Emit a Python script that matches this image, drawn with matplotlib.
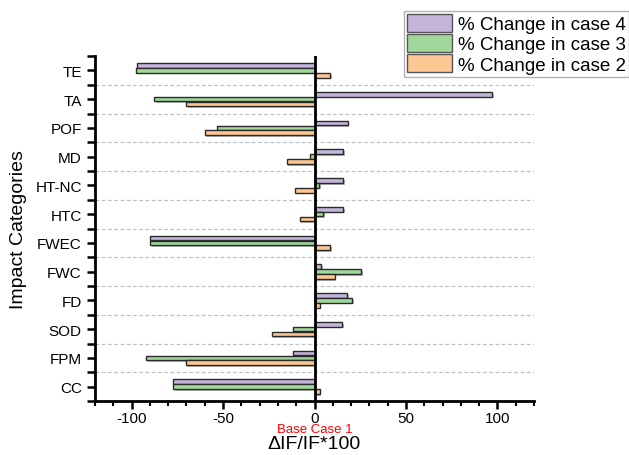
import matplotlib
matplotlib.use("Agg")
import matplotlib.pyplot as plt
import matplotlib.patheffects as pe
from matplotlib.ticker import MultipleLocator
import numpy as np

plt.rcParams['font.family'] = ['Liberation Sans', 'DejaVu Sans']
plt.rcParams['axes.unicode_minus'] = False

categories = ["CC", "FPM", "SOD", "FD", "FWC", "FWEC", "HTC", "HT-NC", "MD", "POF", "TA", "TE"]
case4 = [-77.6, -11.5, 15.3, 18.0, 3.8, -90.0, 15.8, 15.5, 15.8, 18.2, 97.3, -96.9]
case3 = [-77.1, -92.2, -12.0, 20.7, 25.6, -90.0, 4.9, 2.7, -2.7, -53.3, -87.8, -97.6]
case2 = [2.9, -70.4, -23.5, 2.9, 11.1, 8.4, -8.2, -10.5, -15.3, -60.0, -70.0, 8.7]

series = [
    ("% Change in case 4", case4, "#c4b5da", 0.17),
    ("% Change in case 3", case3, "#9fd89a", 0.0),
    ("% Change in case 2", case2, "#fdc794", -0.17),
]

fig = plt.figure(figsize=(6.29, 4.56), dpi=100)
ax = fig.add_axes([95/629, 1-402/456, (534-95)/629, (402-57)/456])

y = np.arange(len(categories))
shadow = [pe.SimplePatchShadow(offset=(1.2, -1.2), shadow_rgbFace='#888888', alpha=0.6), pe.Normal()]
handles = []
for label, vals, color, off in series:
    bars = ax.barh(y + off, vals, height=0.165, color=color, edgecolor='#2b2b2b',
                   linewidth=1.0, label=label, zorder=3)
    for b in bars:
        b.set_path_effects(shadow)
    handles.append(bars)

ax.axvline(0, color='black', linewidth=2, zorder=5)

ax.set_xlim(-120, 120)
ax.set_ylim(-0.5, 11.5)
ax.set_yticks(y)
ax.set_yticklabels(categories, fontsize=11)
ax.yaxis.set_minor_locator(MultipleLocator(1, offset=0.5))
ax.xaxis.set_major_locator(MultipleLocator(50))
ax.xaxis.set_minor_locator(MultipleLocator(10))
ax.tick_params(axis='x', labelsize=11, pad=1.5)
ax.tick_params(which='major', direction='out', length=6, width=1.8)
ax.tick_params(which='minor', direction='out', length=3.5, width=1.5)
ax.tick_params(axis='y', which='minor', length=6, width=1.8)

ax.hlines(y[:-1] + 0.5, -120, 120, colors='#c0c0c0', linestyles=(0, (3, 2)),
          linewidth=0.9, zorder=0)

for s in ['top', 'right']:
    ax.spines[s].set_visible(False)
for s in ['left', 'bottom']:
    ax.spines[s].set_linewidth(2)

ax.set_xlabel("ΔIF/IF*100", fontsize=14, labelpad=7)
ax.set_ylabel("Impact Categories", fontsize=14, labelpad=6)
ax.text(0, -0.081, "Base Case 1", color='red', fontsize=9.5, ha='center', va='center',
        transform=ax.get_xaxis_transform())

leg = fig.legend(handles=handles, loc='upper right', bbox_to_anchor=(1.0, 1-12/456),
                 fontsize=13.5, frameon=True, fancybox=False, edgecolor='#a0a0a0',
                 handlelength=2.4, handleheight=1.1, labelspacing=0.05, borderpad=0.15,
                 handletextpad=0.35, borderaxespad=0)
leg.get_frame().set_linewidth(1.0)
for h in leg.legend_handles:
    h.set_path_effects([])
    h.set_edgecolor('#555555')

fig.savefig("out.png", dpi=100)
